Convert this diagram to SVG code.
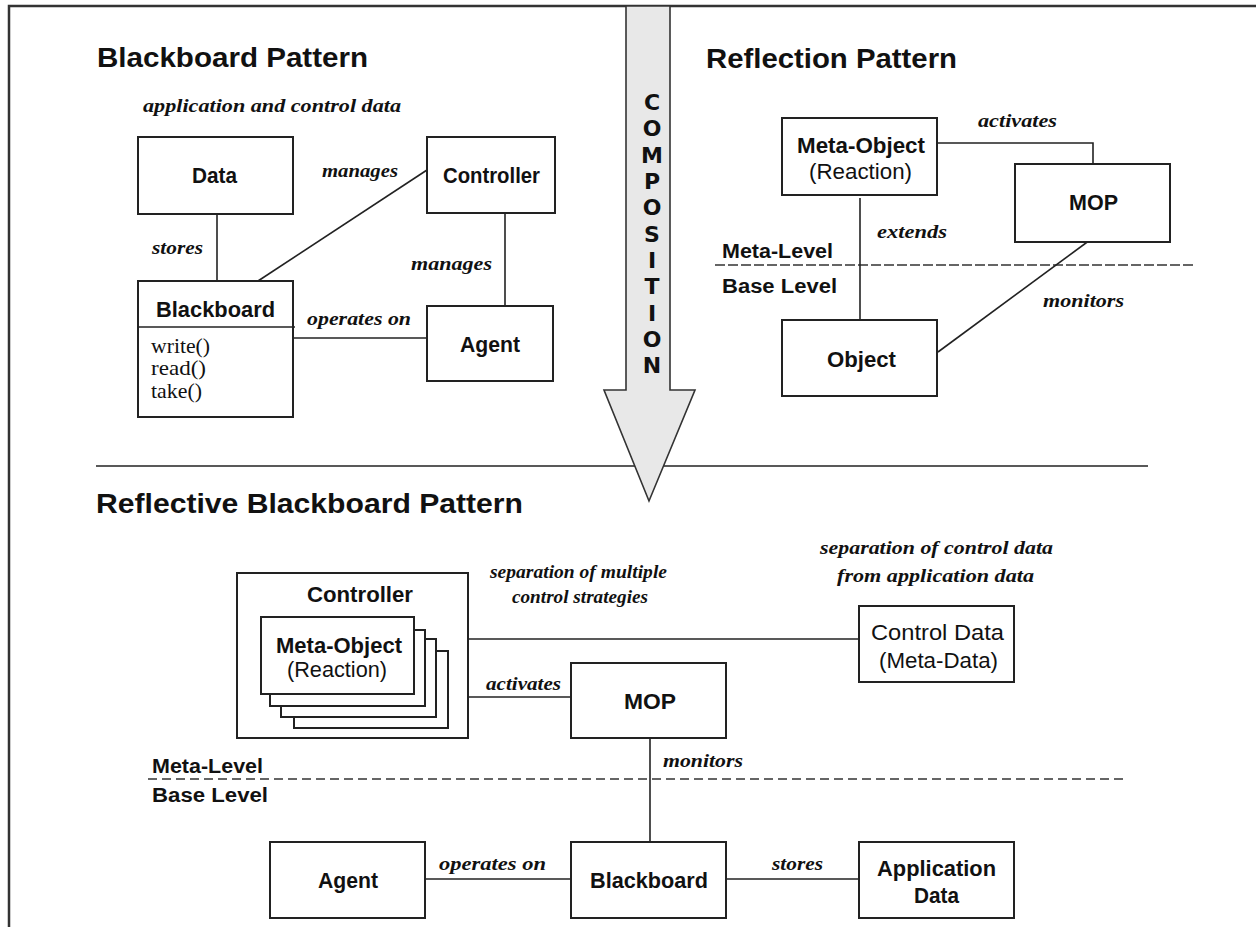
<svg xmlns="http://www.w3.org/2000/svg" width="1256" height="927" viewBox="0 0 1256 927">
  <style>
    .box { fill: #fff; stroke: #222; stroke-width: 2; }
    .ln { fill: none; stroke: #222; stroke-width: 1.6; }
    .dash { fill: none; stroke: #333; stroke-width: 1.6; }
    .t { font-family: "Liberation Sans", Arial, sans-serif; font-size: 22px; font-weight: bold; fill: #111; }
    .r { font-weight: normal; }
    .title { font-family: "Liberation Sans", Arial, sans-serif; font-size: 28px; font-weight: bold; fill: #111; }
    .lvl { font-family: "Liberation Sans", Arial, sans-serif; font-size: 20px; font-weight: bold; fill: #111; }
    .lbl { font-family: "Liberation Serif", "Times New Roman", serif; font-size: 19px; font-style: italic; font-weight: bold; fill: #111; }
    .op { font-family: "Liberation Serif", "Times New Roman", serif; font-size: 21px; fill: #111; }
    .comp { font-family: "DejaVu Sans", Verdana, sans-serif; font-size: 22px; font-weight: bold; fill: #111; text-anchor: middle; }
  </style>

  <!-- page frame -->
  <path d="M9,927 V6 H1256" fill="none" stroke="#333" stroke-width="2.5"/>

  <!-- section titles -->
  <text class="title" x="97" y="67" textLength="271" lengthAdjust="spacingAndGlyphs">Blackboard Pattern</text>
  <text class="title" x="706" y="68" textLength="251" lengthAdjust="spacingAndGlyphs">Reflection Pattern</text>
  <text class="title" x="96" y="513" textLength="427" lengthAdjust="spacingAndGlyphs">Reflective Blackboard Pattern</text>

  <!-- section divider -->
  <line x1="96" y1="466" x2="1148" y2="466" stroke="#222" stroke-width="1.6"/>

  <!-- composition arrow -->
  <g id="composition">
    <polygon points="626,6 670,6 670,390 695,390 649,501 604,390 626,390" fill="#e8e8e8" stroke="#333" stroke-width="1.6"/>
    <text class="comp" x="652" y="110">C</text>
    <text class="comp" x="652" y="136">O</text>
    <text class="comp" x="652" y="163">M</text>
    <text class="comp" x="652" y="189">P</text>
    <text class="comp" x="652" y="215">O</text>
    <text class="comp" x="652" y="242">S</text>
    <text class="comp" x="652" y="268">I</text>
    <text class="comp" x="652" y="294">T</text>
    <text class="comp" x="652" y="321">I</text>
    <text class="comp" x="652" y="347">O</text>
    <text class="comp" x="652" y="373">N</text>
  </g>

  <!-- level separators -->
  <g id="levels">
    <line class="dash" x1="715" y1="265" x2="1195" y2="265" stroke-dasharray="10 3"/>
    <text class="lvl" x="722" y="258" textLength="111" lengthAdjust="spacingAndGlyphs">Meta-Level</text>
    <text class="lvl" x="722" y="293" textLength="115" lengthAdjust="spacingAndGlyphs">Base Level</text>
    <line class="dash" x1="148" y1="779" x2="1128" y2="779" stroke-dasharray="9 5"/>
    <text class="lvl" x="152" y="773" textLength="111" lengthAdjust="spacingAndGlyphs">Meta-Level</text>
    <text class="lvl" x="152" y="802" textLength="116" lengthAdjust="spacingAndGlyphs">Base Level</text>
  </g>

  <!-- connectors -->
  <g id="connectors">
    <line class="ln" x1="217" y1="214" x2="217" y2="281"/>
    <line class="ln" x1="258" y1="281" x2="427" y2="170"/>
    <line class="ln" x1="293" y1="338" x2="427" y2="338"/>
    <line class="ln" x1="505" y1="213" x2="505" y2="306"/>
    <polyline class="ln" points="937,143 1093,143 1093,164"/>
    <line class="ln" x1="860" y1="198" x2="860" y2="320"/>
    <line class="ln" x1="1090" y1="240" x2="938" y2="352"/>
    <line class="ln" x1="468" y1="639" x2="859" y2="639"/>
    <line class="ln" x1="468" y1="697" x2="571" y2="697"/>
    <line class="ln" x1="650" y1="738" x2="650" y2="842"/>
    <line class="ln" x1="425" y1="879" x2="571" y2="879"/>
    <line class="ln" x1="726" y1="879" x2="859" y2="879"/>
  </g>

  <!-- connector labels -->
  <g id="labels">
    <text class="lbl" x="143" y="112" textLength="258" lengthAdjust="spacingAndGlyphs">application and control data</text>
    <text class="lbl" x="322" y="177" textLength="76" lengthAdjust="spacingAndGlyphs">manages</text>
    <text class="lbl" x="152" y="254" textLength="51" lengthAdjust="spacingAndGlyphs">stores</text>
    <text class="lbl" x="307" y="325" textLength="104" lengthAdjust="spacingAndGlyphs">operates on</text>
    <text class="lbl" x="411" y="270" textLength="81" lengthAdjust="spacingAndGlyphs">manages</text>
    <text class="lbl" x="978" y="127" textLength="79" lengthAdjust="spacingAndGlyphs">activates</text>
    <text class="lbl" x="877" y="238" textLength="70" lengthAdjust="spacingAndGlyphs">extends</text>
    <text class="lbl" x="1043" y="307" textLength="81" lengthAdjust="spacingAndGlyphs">monitors</text>
    <text class="lbl" x="490" y="578" textLength="177" lengthAdjust="spacingAndGlyphs">separation of multiple</text>
    <text class="lbl" x="512" y="603" textLength="136" lengthAdjust="spacingAndGlyphs">control strategies</text>
    <text class="lbl" x="486" y="690" textLength="75" lengthAdjust="spacingAndGlyphs">activates</text>
    <text class="lbl" x="820" y="554" textLength="233" lengthAdjust="spacingAndGlyphs">separation of control data</text>
    <text class="lbl" x="837" y="582" textLength="197" lengthAdjust="spacingAndGlyphs">from application data</text>
    <text class="lbl" x="663" y="767" textLength="80" lengthAdjust="spacingAndGlyphs">monitors</text>
    <text class="lbl" x="439" y="870" textLength="107" lengthAdjust="spacingAndGlyphs">operates on</text>
    <text class="lbl" x="772" y="870" textLength="51" lengthAdjust="spacingAndGlyphs">stores</text>
  </g>

  <!-- Blackboard pattern -->
  <g id="bb-data">
    <rect class="box" x="138" y="137" width="155" height="77"/>
    <text class="t" x="192" y="183" textLength="45" lengthAdjust="spacingAndGlyphs">Data</text>
  </g>
  <g id="bb-controller">
    <rect class="box" x="427" y="137" width="128" height="76"/>
    <text class="t" x="443" y="183" textLength="97" lengthAdjust="spacingAndGlyphs">Controller</text>
  </g>
  <g id="bb-blackboard">
    <rect class="box" x="138" y="281" width="155" height="136"/>
    <line x1="138" y1="327" x2="295" y2="327" stroke="#222" stroke-width="1.6"/>
    <text class="t" x="156" y="317" textLength="119" lengthAdjust="spacingAndGlyphs">Blackboard</text>
    <text class="op" x="151" y="353" textLength="59" lengthAdjust="spacingAndGlyphs">write()</text>
    <text class="op" x="151" y="375" textLength="55" lengthAdjust="spacingAndGlyphs">read()</text>
    <text class="op" x="151" y="398" textLength="51" lengthAdjust="spacingAndGlyphs">take()</text>
  </g>
  <g id="bb-agent">
    <rect class="box" x="427" y="306" width="126" height="75"/>
    <text class="t" x="460" y="352" textLength="60" lengthAdjust="spacingAndGlyphs">Agent</text>
  </g>

  <!-- Reflection pattern -->
  <g id="rp-metaobject">
    <rect class="box" x="782" y="118" width="155" height="77"/>
    <text class="t" x="797" y="153" textLength="128" lengthAdjust="spacingAndGlyphs">Meta-Object</text>
    <text class="t r" x="809" y="179" textLength="103" lengthAdjust="spacingAndGlyphs">(Reaction)</text>
  </g>
  <g id="rp-mop">
    <rect class="box" x="1015" y="164" width="155" height="78"/>
    <text class="t" x="1069" y="210" textLength="49" lengthAdjust="spacingAndGlyphs">MOP</text>
  </g>
  <g id="rp-object">
    <rect class="box" x="782" y="320" width="155" height="76"/>
    <text class="t" x="827" y="367" textLength="69" lengthAdjust="spacingAndGlyphs">Object</text>
  </g>

  <!-- Reflective blackboard pattern -->
  <g id="rbb-controller">
    <rect class="box" x="237" y="573" width="231" height="165"/>
    <text class="t" x="307" y="602" textLength="106" lengthAdjust="spacingAndGlyphs">Controller</text>
    <rect class="box" x="294" y="651" width="154" height="77"/>
    <rect class="box" x="281" y="639" width="155" height="78"/>
    <rect class="box" x="270" y="630" width="155" height="76"/>
    <rect class="box" x="261" y="617" width="153" height="77"/>
    <text class="t" x="276" y="653" textLength="126" lengthAdjust="spacingAndGlyphs">Meta-Object</text>
    <text class="t r" x="287" y="677" textLength="100" lengthAdjust="spacingAndGlyphs">(Reaction)</text>
  </g>
  <g id="rbb-mop">
    <rect class="box" x="571" y="663" width="155" height="75"/>
    <text class="t" x="624" y="709" textLength="52" lengthAdjust="spacingAndGlyphs">MOP</text>
  </g>
  <g id="rbb-controldata">
    <rect class="box" x="859" y="606" width="155" height="76"/>
    <text class="t r" x="871" y="640" textLength="133" lengthAdjust="spacingAndGlyphs">Control Data</text>
    <text class="t r" x="879" y="668" textLength="119" lengthAdjust="spacingAndGlyphs">(Meta-Data)</text>
  </g>
  <g id="rbb-agent">
    <rect class="box" x="270" y="842" width="155" height="76"/>
    <text class="t" x="318" y="888" textLength="60" lengthAdjust="spacingAndGlyphs">Agent</text>
  </g>
  <g id="rbb-blackboard">
    <rect class="box" x="571" y="842" width="155" height="76"/>
    <text class="t" x="590" y="888" textLength="118" lengthAdjust="spacingAndGlyphs">Blackboard</text>
  </g>
  <g id="rbb-appdata">
    <rect class="box" x="859" y="842" width="155" height="76"/>
    <text class="t" x="877" y="876" textLength="119" lengthAdjust="spacingAndGlyphs">Application</text>
    <text class="t" x="914" y="903" textLength="45" lengthAdjust="spacingAndGlyphs">Data</text>
  </g>
</svg>
